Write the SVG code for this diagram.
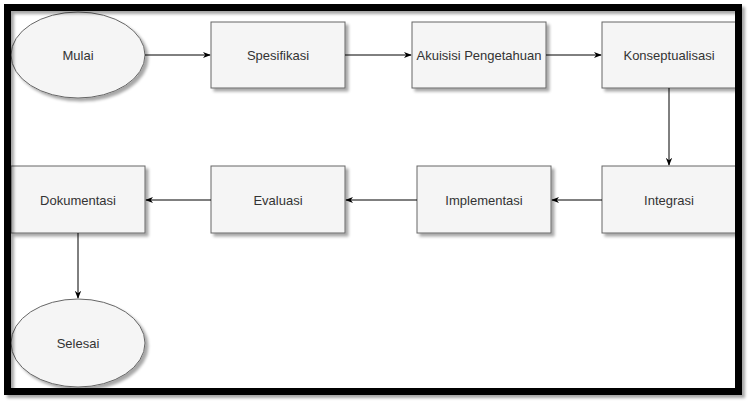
<svg xmlns="http://www.w3.org/2000/svg" width="755" height="409" viewBox="0 0 755 409">
<defs>
<filter id="sh" x="-10%" y="-10%" width="130%" height="130%">
<feGaussianBlur in="SourceAlpha" stdDeviation="1.5"/>
<feOffset dx="3" dy="3" result="b"/>
<feComponentTransfer><feFuncA type="linear" slope="0.35"/></feComponentTransfer>
<feMerge><feMergeNode/><feMergeNode in="SourceGraphic"/></feMerge>
</filter>
<marker id="arr" viewBox="0 0 10 10" refX="9" refY="5" markerWidth="8" markerHeight="8" orient="auto" markerUnits="userSpaceOnUse">
<path d="M0,1 L10,5 L0,9 L3,5 Z" fill="#000"/>
</marker>
</defs>
<style>
.n{fill:#f5f5f5;stroke:#666;stroke-width:1;filter:url(#sh)}
.t{font-family:"Liberation Sans",Arial,sans-serif;font-size:13px;fill:#333;text-anchor:middle;dominant-baseline:central}
.c{stroke:#000;stroke-width:1;fill:none;marker-end:url(#arr)}
</style>
<rect width="755" height="409" fill="#fff"/>
<g id="nodes">
<g id="mulai"><ellipse class="n" cx="78" cy="55" rx="67" ry="43"/><text class="t" x="78" y="55">Mulai</text></g>
<g id="spesifikasi"><rect class="n" x="211" y="22" width="134" height="66"/><text class="t" x="278" y="55">Spesifikasi</text></g>
<g id="akuisisi"><rect class="n" x="412" y="22" width="134" height="66"/><text class="t" x="479" y="55">Akuisisi Pengetahuan</text></g>
<g id="konseptualisasi"><rect class="n" x="602" y="22" width="134" height="66"/><text class="t" x="669" y="55">Konseptualisasi</text></g>
<g id="integrasi"><rect class="n" x="602" y="166" width="134" height="67"/><text class="t" x="669" y="200">Integrasi</text></g>
<g id="implementasi"><rect class="n" x="417" y="166" width="134" height="67"/><text class="t" x="484" y="200">Implementasi</text></g>
<g id="evaluasi"><rect class="n" x="211" y="166" width="134" height="67"/><text class="t" x="278" y="200">Evaluasi</text></g>
<g id="dokumentasi"><rect class="n" x="11" y="166" width="134" height="67"/><text class="t" x="78" y="200">Dokumentasi</text></g>
<g id="selesai"><ellipse class="n" cx="78" cy="343" rx="67" ry="44"/><text class="t" x="78" y="343">Selesai</text></g>
</g>
<g id="connectors">
<line class="c" x1="145" y1="55" x2="210" y2="55"/>
<line class="c" x1="345" y1="55" x2="411" y2="55"/>
<line class="c" x1="546" y1="55" x2="601" y2="55"/>
<line class="c" x1="669" y1="88" x2="669" y2="165"/>
<line class="c" x1="602" y1="200" x2="552" y2="200"/>
<line class="c" x1="417" y1="200" x2="346" y2="200"/>
<line class="c" x1="211" y1="200" x2="146" y2="200"/>
<line class="c" x1="78" y1="233" x2="78" y2="298"/>
</g>
<g id="frame">
<rect x="7.5" y="7.5" width="731" height="384" fill="none" stroke="#000" stroke-width="7" filter="url(#sh)"/>
</g>
</svg>
